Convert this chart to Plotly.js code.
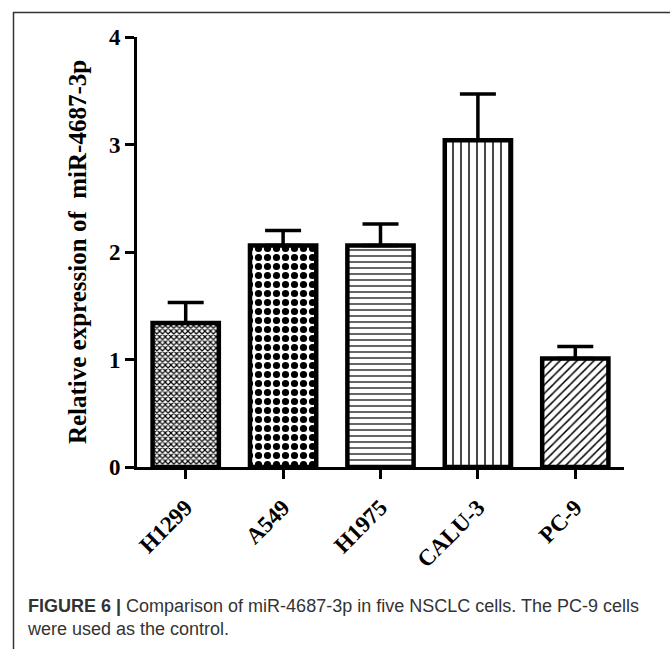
<!DOCTYPE html>
<html>
<head>
<meta charset="utf-8">
<script src="https://cdn.plot.ly/plotly-3.0.1.min.js"></script>
<style>html,body{margin:0;padding:0;background:#fff;}#chart{width:670px;height:649px;}</style>
</head>
<body>
<div id="chart"></div>
<script>
var categories = ["H1299", "A549", "H1975", "CALU-3", "PC-9"];
var expression = [1.34, 2.06, 2.06, 3.04, 1.01];
var errorUp = [0.19, 0.14, 0.20, 0.43, 0.11];
var patternShapes = ["x", ".", "-", "|", "/"];
var patternSizes = [4, 9, 6, 8, 6];
var patternSolidity = [0.5, 0.5, 0.2, 0.18, 0.25];
var yTicks = [0, 1, 2, 3, 4];
var yTitle = "Relative expression of  miR-4687-3p";
var captionBold = "FIGURE 6 |";
var captionText = " Comparison of miR-4687-3p in five NSCLC cells. The PC-9 cells<br>were used as the control.";

var serif = "Liberation Serif, Times New Roman, serif";
var L = 137, R = 624, T = 37, B = 467, W = 670, H = 649;
function px(x) { return (x - L) / (R - L); }
function py(y) { return (B - y) / (B - T); }

var trace = {
  type: "bar",
  x: categories,
  y: expression,
  marker: {
    color: "white",
    line: { color: "black", width: 4.5 },
    pattern: {
      shape: patternShapes,
      size: patternSizes,
      solidity: patternSolidity,
      fgcolor: "black",
      bgcolor: "white",
      fillmode: "replace"
    }
  },
  error_y: {
    type: "data",
    symmetric: false,
    array: errorUp,
    arrayminus: errorUp.map(function () { return 0; }),
    color: "black",
    thickness: 3.5,
    width: 18
  },
  hoverinfo: "skip"
};

var layout = {
  width: W,
  height: H,
  margin: { l: L, r: W - R, t: T, b: H - B, pad: 0 },
  paper_bgcolor: "white",
  plot_bgcolor: "white",
  showlegend: false,
  bargap: 0.32,
  xaxis: {
    type: "category",
    range: [-0.5, 4.5],
    showline: true, linecolor: "black", linewidth: 3,
    ticks: "outside", ticklen: 9, tickwidth: 3, tickcolor: "black",
    tickangle: -45,
    ticklabelstandoff: 6,
    tickfont: { family: serif, size: 23, color: "black", weight: "bold" },
    showgrid: false, zeroline: false, fixedrange: true
  },
  yaxis: {
    range: [0, 4],
    tickvals: yTicks,
    ticktext: yTicks.map(String),
    showline: true, linecolor: "black", linewidth: 3,
    ticks: "outside", ticklen: 9, tickwidth: 3, tickcolor: "black",
    tickfont: { family: serif, size: 23, color: "black", weight: "bold" },
    title: { text: yTitle, font: { family: serif, size: 25, color: "black", weight: "bold" }, standoff: 16 },
    showgrid: false, zeroline: false, fixedrange: true
  },
  shapes: [
    { type: "line", xref: "paper", yref: "paper", x0: px(13), x1: px(672), y0: py(12.5), y1: py(12.5), line: { color: "#333", width: 1.5 } },
    { type: "line", xref: "paper", yref: "paper", x0: px(13.5), x1: px(13.5), y0: py(12), y1: py(652), line: { color: "#333", width: 1.5 } }
  ],
  annotations: [
    {
      xref: "paper", yref: "paper", x: px(25), y: py(594),
      xanchor: "left", yanchor: "top", align: "left", showarrow: false,
      text: "<b>" + captionBold + "</b>" + captionText,
      font: { family: "Liberation Sans, Arial, sans-serif", size: 18, color: "#333" }
    }
  ]
};

Plotly.newPlot("chart", [trace], layout, { staticPlot: true, displayModeBar: false });
</script>
</body>
</html>
